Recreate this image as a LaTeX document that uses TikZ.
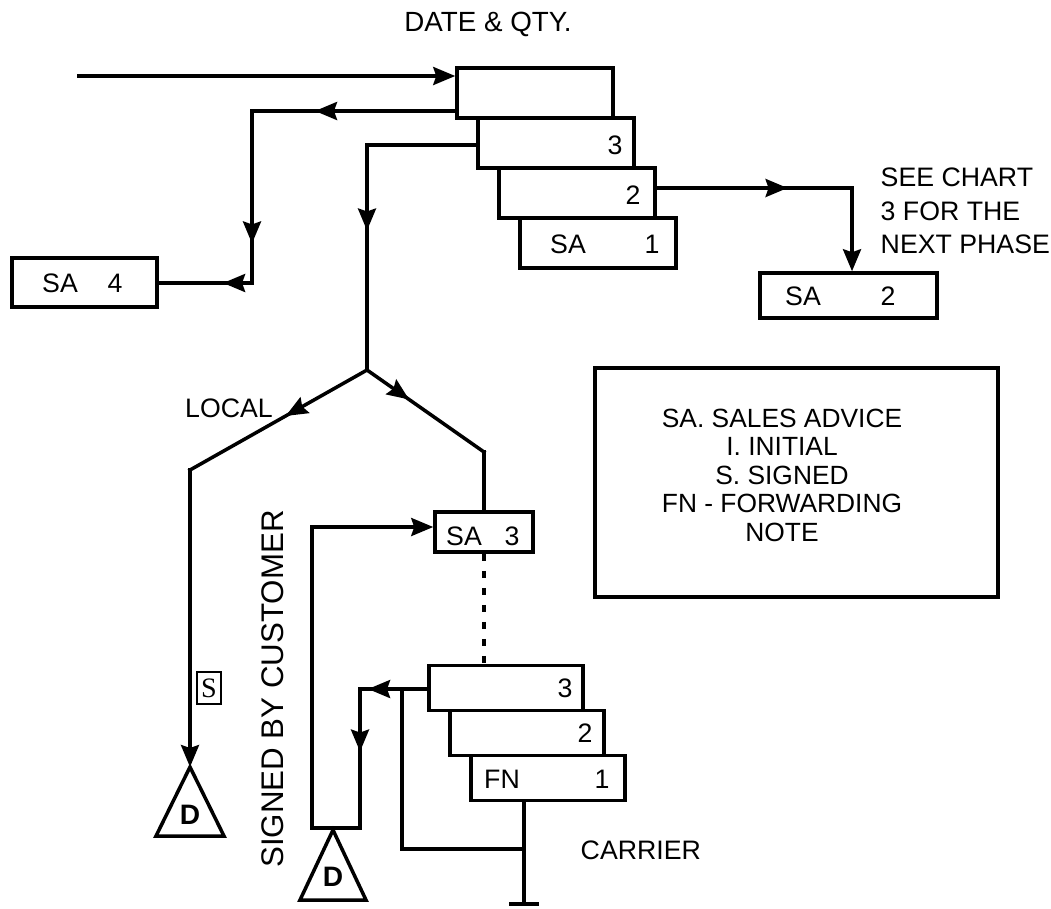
\documentclass[tikz,border=0pt]{standalone}
\usepackage{fontspec}
\setmainfont{Liberation Sans}
\newfontfamily\serfont{Liberation Serif}
\usetikzlibrary{arrows.meta, decorations.markings}

\tikzset{
  doc/.style={draw, line width=1pt, fill=white, inner sep=0pt,
    minimum width=15.6mm, minimum height=5mm},
  fn/.style={doc, minimum width=15.4mm, minimum height=4.5mm},
  flow/.style={line width=1pt, line cap=rect},
  midarrow/.style={postaction={decorate}, decoration={markings,
    mark=at position #1 with {\arrow{>}}}},
  txt/.style={inner sep=0pt, font=\fontsize{7.6}{9}\selectfont},
  dmark/.style={inner sep=0pt, font=\fontsize{8}{9}\selectfont\bfseries},
}

\begin{document}
\begin{tikzpicture}[x=0.1mm, y=-0.1mm, >={Stealth[length=2.2mm,width=1.8mm,inset=0.3mm]}]
  \useasboundingbox (0,0) rectangle (1051,908);

  \node[txt, font=\fontsize{7.9}{9}\selectfont] (head) at (488,24) {DATE \& QTY.};

  % sales advice set
  \node[doc] (saA) at (535,93) {};
  \node[doc] (saB) at (556,143) {};
  \node[doc] (saC) at (577,193) {};
  \node[doc] (saD) at (598,243) {};
  \node[txt] (nB) at (615,145) {3};
  \node[txt] (nC) at (633,195) {2};
  \node[txt] (tD) at (568,244) {SA};
  \node[txt] (nD) at (652,244) {1};

  \node[doc, minimum width=14.5mm, minimum height=4.9mm] (sa4) at (84.5,282.5) {};
  \node[txt] (tsa4) at (60,283) {SA};
  \node[txt] (nsa4) at (115,283) {4};

  \node[doc, minimum width=17.7mm, minimum height=4.5mm] (sa2) at (848.5,295.5) {};
  \node[txt] (tsa2) at (803,296) {SA};
  \node[txt] (nsa2) at (888,296) {2};
  \node[txt, align=left, anchor=west, font=\fontsize{7.6}{9.6}\selectfont] (see) at (880,211)
    {SEE CHART\\3 FOR THE\\NEXT PHASE};

  \node[doc, minimum width=9.8mm, minimum height=4mm] (sa3) at (484,532) {};
  \node[txt] (tsa3) at (464,536) {SA};
  \node[txt] (nsa3) at (512,536) {3};

  % forwarding note set
  \node[fn] (fnA) at (506,688) {};
  \node[fn] (fnB) at (527,733) {};
  \node[fn] (fnC) at (548,778) {};
  \node[txt] (nfnA) at (565,688) {3};
  \node[txt] (nfnB) at (585,733) {2};
  \node[txt] (tfnC) at (502,779) {FN};
  \node[txt] (nfnC) at (602,779) {1};

  % key
  \node[draw, line width=1pt, minimum width=40.3mm, minimum height=22.9mm] (key) at (796.5,482.5) {};
  \node[txt, align=center, font=\fontsize{7.5}{8.1}\selectfont] (keytext) at (782,475)
    {SA. SALES ADVICE\\I. INITIAL\\S. SIGNED\\FN - FORWARDING\\NOTE};

  \node[txt] (local) at (229,408) {LOCAL};
  \node[txt, anchor=west] (carrier) at (580,850) {CARRIER};
  \node[txt, rotate=90, font=\fontsize{8.9}{10}\selectfont] (signed) at (273,689) {SIGNED BY CUSTOMER};
  \node[draw, line width=0.5pt, inner sep=0pt, minimum width=2.4mm, minimum height=3.2mm,
    font=\serfont\fontsize{8}{9}\selectfont] (sbox) at (209,688) {S};

  % files
  \draw[flow] (190,767) coordinate (d1top) -- (224,836) -- (156,836) -- cycle;
  \node[dmark] (d1) at (190,815) {D};
  \draw[flow] (333,830) coordinate (d2top) -- (366,900) -- (300,900) -- cycle;
  \node[dmark] (d2) at (333,877) {D};

  % connectors
  \coordinate (in0) at (79,76);
  \coordinate (r1) at (252,111);
  \coordinate (r2) at (252,283);
  \coordinate (t1) at (367,145);
  \coordinate (fork) at (367,370);
  \coordinate (lft) at (190,470);
  \coordinate (rgt) at (484,452);
  \coordinate (s1) at (852,188);
  \coordinate (e1) at (360,689);
  \coordinate (e2) at (360,828);
  \coordinate (e3) at (312,828);
  \coordinate (e4) at (312,527);
  \coordinate (b1) at (402,689);
  \coordinate (b2) at (402,849);
  \coordinate (b3) at (524,849);
  \coordinate (c2) at (524,904);

  \draw[flow, ->] (in0) -- (saA.west |- in0);
  \draw[flow, midarrow=0.69] (saA.west |- r1) -- (r1);
  \draw[flow, midarrow=0.77] (r1) -- (r2);
  \draw[flow, midarrow=0.31] (r2) -- (sa4.east |- r2);
  \draw[flow] (saB.west |- t1) -- (t1);
  \draw[flow, midarrow=0.38] (t1) -- (fork);
  \draw[flow, midarrow=0.46] (fork) -- (lft);
  \draw[flow, midarrow=0.36] (fork) -- (rgt);
  \draw[flow, ->] (lft) -- (d1top);
  \draw[flow] (rgt) -- (sa3.north);
  \draw[flow, midarrow=0.67] (saC.east |- s1) -- (s1);
  \draw[flow, ->] (s1) -- (s1 |- sa2.north);

  \draw[line width=1pt, dash pattern=on 0.7mm off 1mm] (sa3.south) -- (sa3.south |- fnA.north);
  \draw[flow, midarrow=0.88] (fnA.west |- e1) -- (e1);
  \draw[flow, midarrow=0.45] (e1) -- (e2);
  \draw[flow, ->] (e2) -- (e3) -- (e4) -- (sa3.west |- e4);
  \draw[flow] (b1) -- (b2) -- (b3);
  \draw[flow] (fnC.south -| b3) -- (c2);
  \draw[flow] ([xshift=-1.3mm]c2) -- ([xshift=1.3mm]c2);
\end{tikzpicture}
\end{document}
